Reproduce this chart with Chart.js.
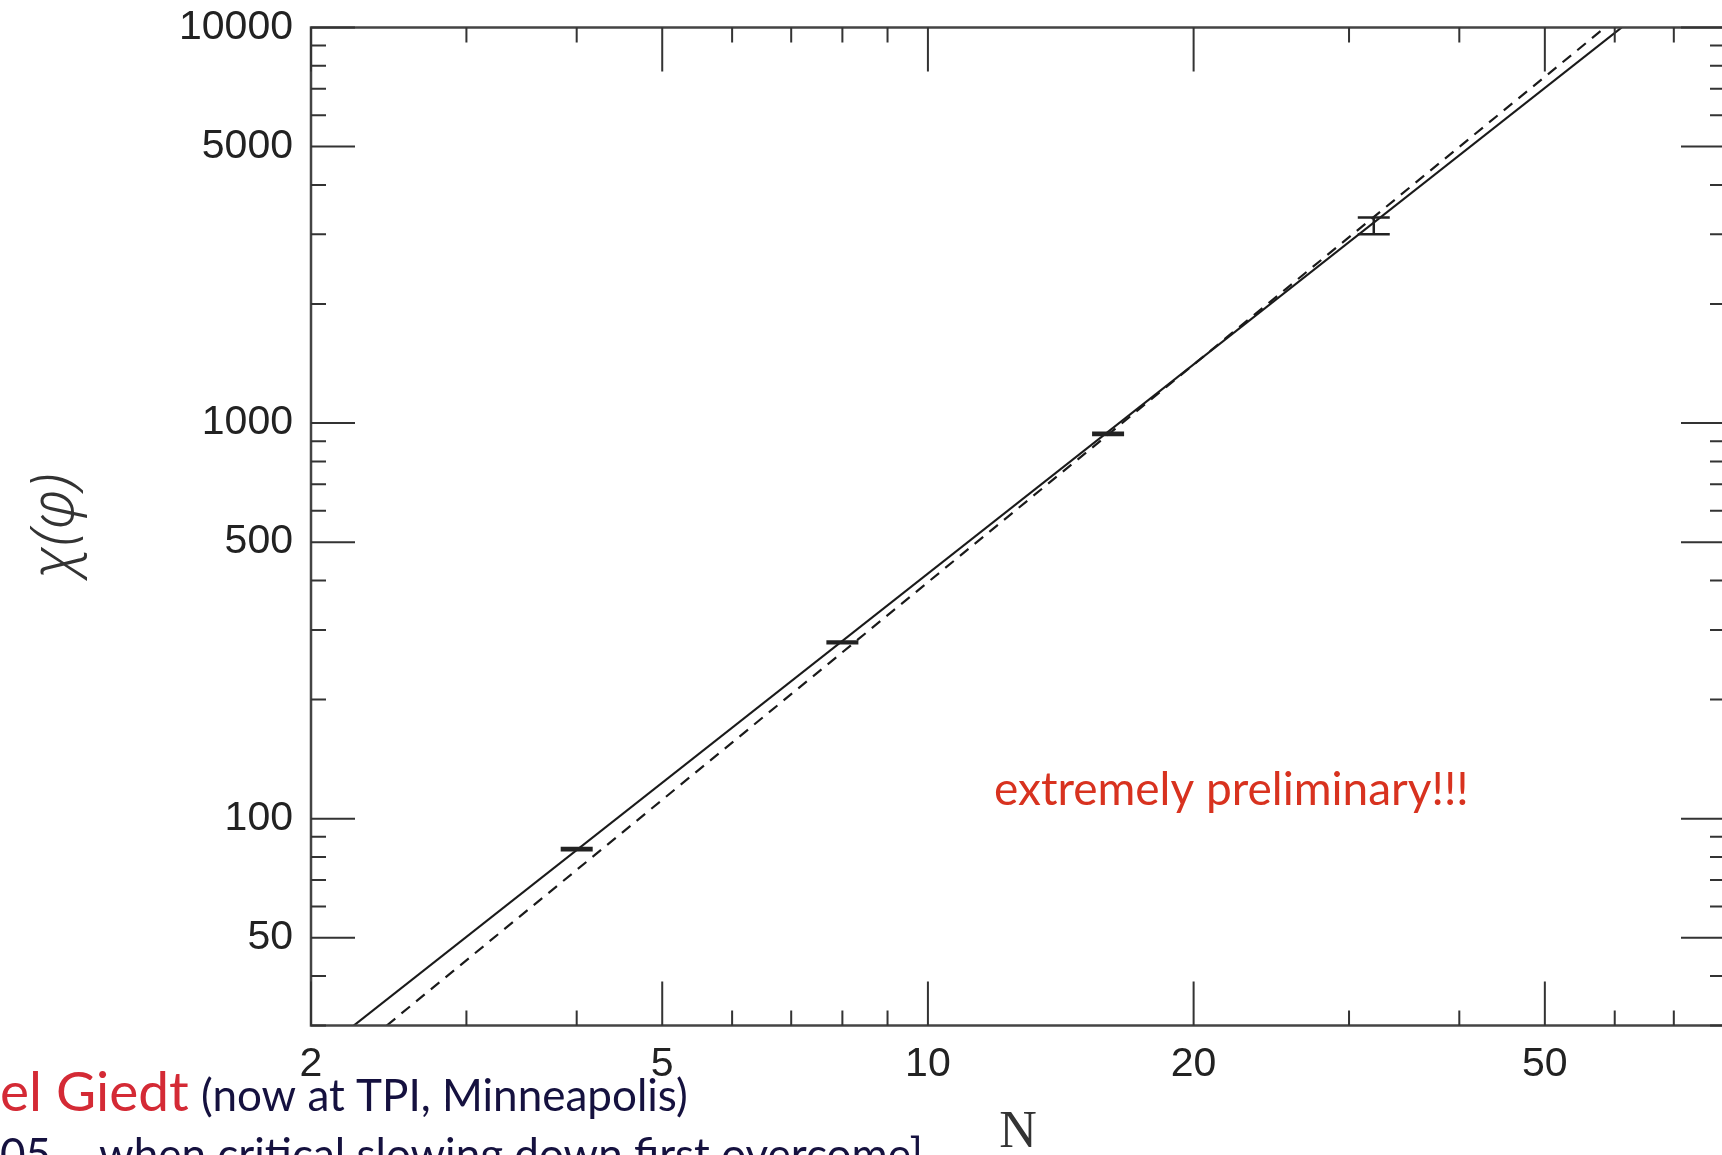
<!DOCTYPE html>
<html>
<head>
<meta charset="utf-8">
<script src="https://cdn.jsdelivr.net/npm/chart.js@4.4.0/dist/chart.umd.min.js"></script>
<style>
  html, body { margin: 0; padding: 0; background: #fff; overflow: hidden; }
  #wrap { position: relative; width: 1760px; height: 1155px; }
</style>
</head>
<body>
<div id="wrap"><canvas id="chi_chart" width="1760" height="1155"></canvas></div>
<script>
// lattice sizes N and measured susceptibility chi(phi) with error bars
var sizes = [4, 8, 16, 32];
var chiValues = [83.7, 279, 939, 3150];
var chiLow = [83.2, 277.5, 933, 3000];
var chiHigh = [84.3, 280.5, 945, 3310];

// fit lines, end points where they leave the frame
var solidFitN = [2.236, 61.1];
var solidFitChi = [30, 10000];
var dashedFitN = [2.437, 58.5];
var dashedFitChi = [30, 10000];

// axes
var xRange = [2, 80];
var yRange = [30, 10000];
var xTickLabels = [2, 5, 10, 20, 50];
var yTickLabels = [50, 100, 500, 1000, 5000, 10000];
var xMinorTicks = [3, 4, 6, 7, 8, 9, 30, 40, 60, 70];
var yMinorTicks = [30, 40, 60, 70, 80, 90, 200, 300, 400, 600, 700, 800, 900,
                   2000, 3000, 4000, 6000, 7000, 8000, 9000];

function toPoints(xs, ys) {
    return xs.map(function (v, i) { return {x: v, y: ys[i]}; });
}

var framePlugin = {
    id: 'framePlugin',
    afterDatasetsDraw: function (chart) {
        var ctx = chart.ctx;
        var xs = chart.scales.x, ys = chart.scales.y;
        ctx.save();
        ctx.strokeStyle = '#222';
        ctx.lineWidth = 2.5;
        for (var i = 0; i < sizes.length; i++) {
            var px = xs.getPixelForValue(sizes[i]);
            var lo = ys.getPixelForValue(chiLow[i]);
            var hi = ys.getPixelForValue(chiHigh[i]);
            ctx.beginPath();
            ctx.moveTo(px, lo); ctx.lineTo(px, hi);
            ctx.moveTo(px - 16, lo); ctx.lineTo(px + 16, lo);
            ctx.moveTo(px - 16, hi); ctx.lineTo(px + 16, hi);
            ctx.stroke();
        }
        ctx.restore();
    },
    afterDraw: function (chart) {
        var ctx = chart.ctx;
        var a = chart.chartArea;
        var xs = chart.scales.x, ys = chart.scales.y;
        ctx.save();
        // frame
        ctx.strokeStyle = '#444';
        ctx.lineWidth = 2.5;
        ctx.strokeRect(a.left, a.top, a.right - a.left, a.bottom - a.top);

        // inward ticks on all four sides
        ctx.strokeStyle = '#333';
        ctx.lineWidth = 2;
        ctx.beginPath();
        xTickLabels.concat(xMinorTicks).forEach(function (v) {
            var len = xTickLabels.indexOf(v) >= 0 ? 44 : 15;
            var px = xs.getPixelForValue(v);
            ctx.moveTo(px, a.bottom); ctx.lineTo(px, a.bottom - len);
            ctx.moveTo(px, a.top); ctx.lineTo(px, a.top + len);
        });
        yTickLabels.concat(yMinorTicks).forEach(function (v) {
            var len = yTickLabels.indexOf(v) >= 0 ? 44 : 15;
            var py = ys.getPixelForValue(v);
            ctx.moveTo(a.left, py); ctx.lineTo(a.left + len, py);
            ctx.moveTo(a.right, py); ctx.lineTo(a.right - len, py);
        });
        ctx.stroke();

        // notes
        ctx.textBaseline = 'alphabetic';
        ctx.textAlign = 'left';
        ctx.fillStyle = '#d8321f';
        ctx.font = '46px Lato';
        ctx.fillText('extremely preliminary!!!', 994, 805);

        ctx.fillStyle = '#d42a35';
        ctx.font = '55px Lato';
        ctx.fillText('el Giedt', 0, 1111);
        ctx.fillStyle = '#15113f';
        ctx.font = '44px Lato';
        ctx.fillText('(now at TPI, Minneapolis)', 201, 1111);
        ctx.fillText('05 \u2013 when critical slowing down first overcome]', 0, 1170);
        ctx.restore();
    }
};

var ctx = document.getElementById('chi_chart');
var chiChart = new Chart(ctx, {
    type: 'scatter',
    data: {
        datasets: [{
            label: 'fit',
            data: toPoints(solidFitN, solidFitChi),
            showLine: true,
            borderColor: '#1a1a1a',
            borderWidth: 2.2,
            pointRadius: 0
        }, {
            label: 'fit (dashed)',
            data: toPoints(dashedFitN, dashedFitChi),
            showLine: true,
            borderColor: '#1a1a1a',
            borderWidth: 2.2,
            borderDash: [11, 8],
            pointRadius: 0
        }, {
            label: 'chi',
            data: toPoints(sizes, chiValues),
            showLine: false,
            pointRadius: 0
        }]
    },
    options: {
        responsive: false,
        animation: false,
        layout: { padding: { top: 27.5, right: 35, left: 0, bottom: 0 } },
        plugins: { legend: { display: false }, tooltip: { enabled: false } },
        scales: {
            x: {
                type: 'logarithmic',
                position: 'bottom',
                min: xRange[0],
                max: xRange[1],
                grid: { display: false, drawTicks: false },
                border: { display: false },
                afterBuildTicks: function (scale) {
                    scale.ticks = xTickLabels.map(function (v) { return {value: v}; });
                },
                afterFit: function (scale) { scale.height = 129.5; },
                ticks: {
                    autoSkip: false,
                    maxRotation: 0,
                    padding: 15,
                    color: '#222',
                    font: { family: 'Liberation Sans', size: 41 },
                    callback: function (v) { return String(v); }
                },
                title: {
                    display: true,
                    text: 'N',
                    color: '#333',
                    padding: 0,
                    font: { family: 'Liberation Serif', size: 52, lineHeight: 0.84 }
                }
            },
            y: {
                type: 'logarithmic',
                position: 'left',
                min: yRange[0],
                max: yRange[1],
                grid: { display: false, drawTicks: false },
                border: { display: false },
                afterBuildTicks: function (scale) {
                    scale.ticks = yTickLabels.map(function (v) { return {value: v}; });
                },
                afterFit: function (scale) { scale.width = 311; },
                ticks: {
                    autoSkip: false,
                    padding: 18,
                    color: '#222',
                    font: { family: 'Liberation Sans', size: 41, lineHeight: 0.3 },
                    callback: function (v) { return String(v); }
                },
                title: {
                    display: true,
                    text: '\u03c7(\u03c6)',
                    color: '#333',
                    padding: { top: 20, bottom: 0 },
                    font: { family: 'Noto Sans', size: 60, style: 'italic', weight: 300, lineHeight: 1.2 }
                }
            }
        }
    },
    plugins: [framePlugin]
});
</script>
</body>
</html>
